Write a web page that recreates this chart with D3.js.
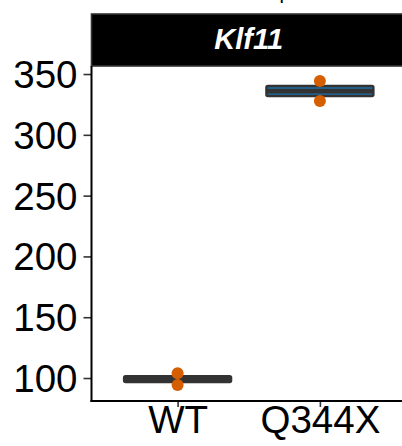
<!DOCTYPE html>
<html><head><meta charset="utf-8">
<script src="https://cdn.jsdelivr.net/npm/d3@7"></script>
<style>html,body{margin:0;padding:0;background:#fff;overflow:hidden}</style>
</head><body>
<svg id="c" width="402" height="446"></svg>
<script>
(function(){
const categories = ["WT", "Q344X"];
const wtValues = [103.9, 94.2];
const q344xValues = [344.2, 327.8];
const yTicks = [100, 150, 200, 250, 300, 350];
const stripLabel = "Klf11";

const series = [
  {cat: "WT", vals: wtValues},
  {cat: "Q344X", vals: q344xValues}
];

const svg = d3.select("#c");
const pLeft = 91.5, pRight = 406, pTop = 66, pBottom = 401;
const font = "Liberation Sans, Arial, sans-serif";

const x = d3.scalePoint().domain(categories).range([pLeft + 0.6*143.5, pRight - 0.6*143.5]).padding(0);
const y = d3.scaleLinear().domain([81.1, 356.6]).range([pBottom, pTop]);

// cut-off title descender (title lies above the visible area)
svg.append("text").attr("x", 285).attr("y", -1).attr("text-anchor","middle")
  .attr("font-family", font).attr("font-size", 20).attr("fill","#000").text("p");

// strip
svg.append("rect").attr("x", pLeft).attr("y", 14).attr("width", 420).attr("height", pTop - 14)
  .attr("fill", "#000").attr("stroke", "#333").attr("stroke-width", 1.6);
svg.append("text").attr("x", (pLeft + pRight)/2).attr("y", 48.5).attr("text-anchor","middle")
  .attr("font-family", font).attr("font-weight","bold").attr("font-style","italic")
  .attr("font-size", 29).attr("fill","#fff").text(stripLabel);

// boxes
const bw = 107, sw = 2.4;
series.forEach(s => {
  const sorted = s.vals.slice().sort(d3.ascending);
  const q1 = d3.quantile(sorted, 0.25), q3 = d3.quantile(sorted, 0.75), med = d3.median(sorted);
  const cx = x(s.cat);
  const g = svg.append("g");
  g.append("line").attr("x1", cx).attr("x2", cx).attr("y1", y(sorted[0])).attr("y2", y(sorted[1]))
    .attr("stroke", "#333").attr("stroke-width", sw);
  g.append("rect").attr("x", cx - bw/2).attr("y", y(q3)).attr("width", bw)
    .attr("height", y(q1) - y(q3)).attr("rx", 1.5)
    .attr("fill", "#1f6fa6").attr("stroke", "#333").attr("stroke-width", sw);
  g.append("line").attr("x1", cx - bw/2).attr("x2", cx + bw/2)
    .attr("y1", y(med)).attr("y2", y(med))
    .attr("stroke", "#333").attr("stroke-width", sw * 2);
  g.selectAll("circle").data(s.vals).join("circle")
    .attr("cx", cx).attr("cy", d => y(d)).attr("r", 6).attr("fill", "#D55E00");
});

// axes
const yAxis = d3.axisLeft(y).tickValues(yTicks).tickSize(8).tickPadding(6);
const gy = svg.append("g").attr("transform", `translate(${pLeft},0)`).call(yAxis);
gy.select(".domain").remove();
gy.selectAll(".tick line").attr("stroke", "#333").attr("stroke-width", 1.6);
gy.selectAll(".tick text").attr("font-family", font).attr("font-size", 38.5).attr("fill", "#000")
  .attr("dy", null).attr("y", 13.5);

const xAxis = d3.axisBottom(x).tickSize(6).tickPadding(4);
const gx = svg.append("g").attr("transform", `translate(0,${pBottom})`).call(xAxis);
gx.select(".domain").remove();
gx.selectAll(".tick line").attr("stroke", "#333").attr("stroke-width", 1.6);
gx.selectAll(".tick text").attr("font-family", font).attr("font-size", 38.5).attr("fill", "#000")
  .attr("dy", null).attr("y", 31.5);

svg.append("line").attr("x1", pLeft).attr("x2", pLeft).attr("y1", pTop).attr("y2", pBottom + 1)
  .attr("stroke", "#000").attr("stroke-width", 2);
svg.append("line").attr("x1", pLeft - 1).attr("x2", 402).attr("y1", pBottom).attr("y2", pBottom)
  .attr("stroke", "#000").attr("stroke-width", 2);
})();
</script>
</body></html>
